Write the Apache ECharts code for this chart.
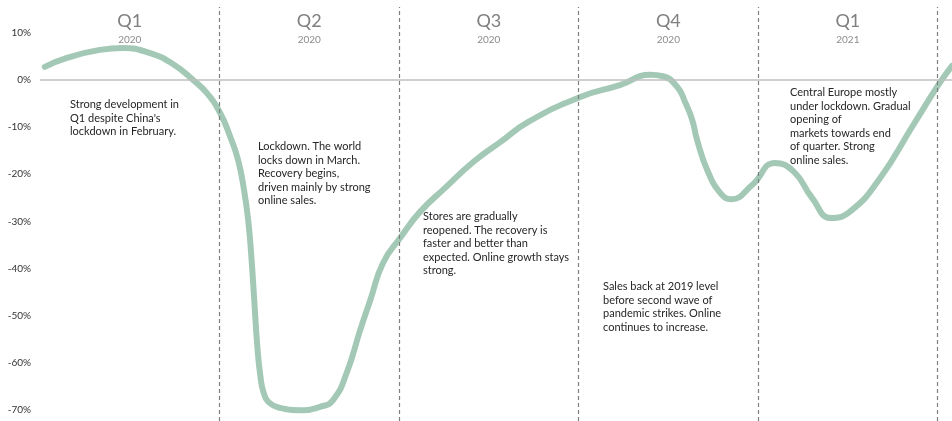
<!DOCTYPE html>
<html><head><meta charset="utf-8">
<script src="https://cdn.jsdelivr.net/npm/echarts@6/dist/echarts.min.js"></script>
<style>html,body{margin:0;padding:0;background:#fff}#c{width:952px;height:421px}</style>
</head><body><div id="c"></div>
<script>
// x = months since start of 2020, y = sales change in %
const months = [0.08,0.45,1.0,1.39,1.84,2.22,2.56,2.79,3.01,3.18,3.31,3.41,3.48,3.53,3.58,3.63,3.68,3.74,3.84,4.01,4.35,4.68,4.90,5.13,5.35,5.52,5.73,6.02,6.35,6.77,7.24,7.69,8.16,9.03,9.69,10.20,10.41,10.65,10.78,10.90,10.98,11.15,11.37,11.55,11.90,12.28,12.60,12.90,13.22,13.55,14.04,14.59,15.01,15.24];
const values = [2.8,4.7,6.4,6.8,5.7,3.4,0.0,-2.8,-7.0,-12.1,-17.0,-23.4,-29.9,-37.2,-46.7,-56.3,-62.6,-66.5,-68.6,-69.6,-70.1,-69.4,-67.9,-62.0,-53.1,-46.7,-38.9,-33.5,-28.0,-22.9,-17.4,-13.2,-8.9,-3.6,-1.1,1.1,0.8,-1.5,-4.7,-8.5,-12.7,-19.1,-24.0,-25.3,-22.3,-17.6,-19.5,-25.0,-29.3,-27.8,-20.8,-9.6,-1.1,3.0];
const yTicks = [10,0,-10,-20,-30,-40,-50,-60,-70];
const quarterBounds = [3,6,9,12,15];
const quarterCenters = [1.5,4.5,7.5,10.5,13.5];
const quarterNames = ['Q1','Q2','Q3','Q4','Q1'];
const quarterYears = ['2020','2020','2020','2020','2021'];
const notes = [
  "Strong development in\nQ1 despite China's\nlockdown in February.",
  "Lockdown. The world\nlocks down in March.\nRecovery begins,\ndriven mainly by strong\nonline sales.",
  "Stores are gradually\nreopened. The recovery is\nfaster and better than\nexpected. Online growth stays\nstrong.",
  "Sales back at 2019 level\nbefore second wave of\npandemic strikes. Online\ncontinues to increase.",
  "Central Europe mostly\nunder lockdown. Gradual\nopening of\nmarkets towards end\nof quarter. Strong\nonline sales."
];
const notePos = [[70,98],[258,140],[423,210],[603,280],[790,86]];

const chart = echarts.init(document.getElementById('c'));
const FONT = 'Lato, "Open Sans", sans-serif';
chart.setOption({
  animation: false,
  grid: {left: 40, right: 0, top: 7, bottom: 0, containLabel: false},
  xAxis: {
    type: 'value', min: 0, max: 15.24, position: 'top',
    axisLine: {show: false}, axisTick: {show: false}, splitLine: {show: false},
    axisLabel: {
      show: true, inside: true, margin: 2, customValues: quarterCenters,
      formatter: function (v) {
        const i = Math.round((v - 1.5) / 3);
        return '{q|' + quarterNames[i] + '}\n{y|' + quarterYears[i] + '}';
      },
      rich: {
        q: {fontSize: 18, lineHeight: 24, color: '#7f7f7f', fontFamily: FONT},
        y: {fontSize: 10, lineHeight: 14, color: '#8c8c8c', fontFamily: FONT}
      }
    }
  },
  yAxis: {
    type: 'value', min: -72.4, max: 15.5,
    axisLine: {show: false}, axisTick: {show: false}, splitLine: {show: false},
    axisLabel: {
      customValues: yTicks, margin: 9, color: '#333', fontSize: 10, fontFamily: FONT,
      formatter: v => v + '%'
    }
  },
  series: [
    {
      type: 'line', data: [], silent: true,
      markLine: {
        silent: true, symbol: 'none', label: {show: false},
        lineStyle: {color: '#bfbfbf', width: 1.5, type: 'solid'},
        data: [{yAxis: 0}]
      }
    },
    {
      type: 'line', data: [], silent: true,
      markLine: {
        silent: true, symbol: 'none', label: {show: false},
        lineStyle: {color: '#7f7f7f', width: 1.2, type: [4, 3]},
        data: quarterBounds.map(q => ({xAxis: q}))
      }
    },
    {
      type: 'line', smooth: 0.5, showSymbol: false,
      lineStyle: {color: '#a3c9b6', width: 6, cap: 'round', join: 'round'},
      data: months.map((m, i) => [m, values[i]])
    }
  ],
  graphic: notes.map((t, i) => ({
    type: 'text', left: notePos[i][0], top: notePos[i][1], silent: true,
    style: {text: t, font: '11px ' + FONT, fill: '#262626', lineHeight: 13.5}
  }))
});
</script></body></html>
